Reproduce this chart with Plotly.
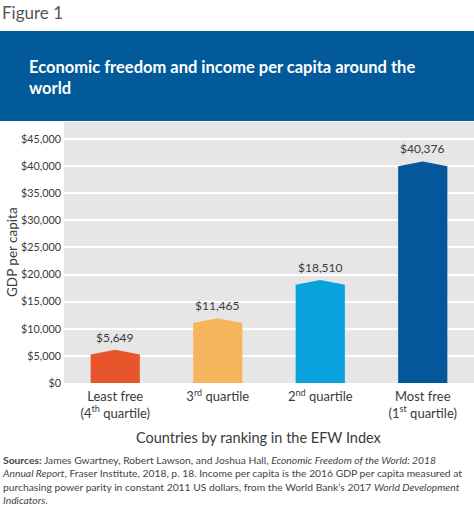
import plotly.graph_objects as go

categories = ["Least free<br>(4<sup>th</sup> quartile)", "3<sup>rd</sup> quartile",
              "2<sup>nd</sup> quartile", "Most free<br>(1<sup>st</sup> quartile)"]
values = [5649, 11465, 18510, 40376]
value_labels = ["$5,649", "$11,465", "$18,510", "$40,376"]
colors = ["#E8552B", "#F6B55C", "#08A2DC", "#03579A"]
y_ticks = [0, 5000, 10000, 15000, 20000, 25000, 30000, 35000, 40000, 45000]
y_tick_labels = ["$0", "$5,000", "$10,000", "$15,000", "$20,000", "$25,000",
                 "$30,000", "$35,000", "$40,000", "$45,000"]

W, H = 474, 506
ML, MR, MT, MB = 64, 0, 122, 123
PW = W - ML - MR
PH = H - MT - MB

def px_x(p):
    return (p - ML) / PW

def px_y(p):
    return (H - MB - p) / PH

fig = go.Figure()
half = 0.24
for i, (v, c) in enumerate(zip(values, colors)):
    fig.add_trace(go.Scatter(
        x=[i - half, i - half, i, i + half, i + half, i - half],
        y=[0, v - 400, v + 500, v - 400, 0, 0],
        fill="toself", fillcolor=c, mode="lines", line=dict(width=0, color=c),
        hoverinfo="skip", showlegend=False))
    fig.add_annotation(x=i, y=v + 500, text=value_labels[i], showarrow=False,
                       xanchor="center", yanchor="bottom", yshift=3,
                       font=dict(family="Lato", size=12, color="#3a3a3a"))

fig.update_xaxes(range=[-0.5, 3.5], tickvals=list(range(len(categories))), ticktext=categories,
                 showgrid=False, zeroline=False, ticks="", showline=False,
                 ticklabelstandoff=4,
                 tickfont=dict(family="Lato", size=13, color="#3a3a3a"))
fig.update_yaxes(range=[0, 48150], tickvals=y_ticks, ticktext=y_tick_labels,
                 showgrid=True, gridcolor="white", gridwidth=2, zeroline=False,
                 ticks="", ticklabelstandoff=2,
                 tickfont=dict(family="Lato", size=10.8, color="#3a3a3a"))

# banner
fig.add_shape(type="rect", xref="paper", yref="paper",
              x0=px_x(0), x1=px_x(W), y0=px_y(121), y1=px_y(31),
              fillcolor="#025A9B", line=dict(width=0), layer="below")

fig.add_annotation(xref="paper", yref="paper", x=px_x(0), y=px_y(0), xanchor="left", yanchor="top",
                   text="Figure 1", showarrow=False,
                   font=dict(family="Lato", size=17, color="#555555"))
fig.add_annotation(xref="paper", yref="paper", x=px_x(27), y=px_y(55), xanchor="left", yanchor="top",
                   text="<b>Economic freedom and income per capita around the<br>world</b>",
                   showarrow=False, align="left",
                   font=dict(family="Lato", size=16.5, color="white"))
fig.add_annotation(xref="paper", yref="paper", x=px_x(12), y=px_y(252), textangle=-90,
                   xanchor="center", yanchor="middle",
                   text="GDP per capita", showarrow=False,
                   font=dict(family="Lato", size=13.5, color="#3a3a3a"))
fig.add_annotation(xref="paper", yref="paper", x=px_x(259), y=px_y(437),
                   xanchor="center", yanchor="middle",
                   text="Countries by ranking in the EFW Index", showarrow=False,
                   font=dict(family="Lato", size=14.5, color="#3a3a3a"))
fig.add_annotation(xref="paper", yref="paper", x=px_x(0), y=px_y(452), xanchor="left", yanchor="top",
                   text=("<b>Sources:</b> James Gwartney, Robert Lawson, and Joshua Hall, <i>Economic Freedom of the World: 2018</i><br>"
                         "<i>Annual Report</i>, Fraser Institute, 2018, p. 18. Income per capita is the 2016 GDP per capita measured at<br>"
                         "purchasing power parity in constant 2011 US dollars, from the World Bank’s 2017 <i>World Development</i><br>"
                         "<i>Indicators</i>."),
                   showarrow=False, align="left",
                   font=dict(family="Lato", size=10.3, color="#444444"))

fig.update_layout(width=W, height=H, margin=dict(l=ML, r=MR, t=MT, b=MB),
                  paper_bgcolor="white", plot_bgcolor="#E6E6E6", showlegend=False)

fig.write_html("out.html", config={"displayModeBar": False},
               post_script="document.body.style.margin='0';document.body.style.overflow='hidden';")
